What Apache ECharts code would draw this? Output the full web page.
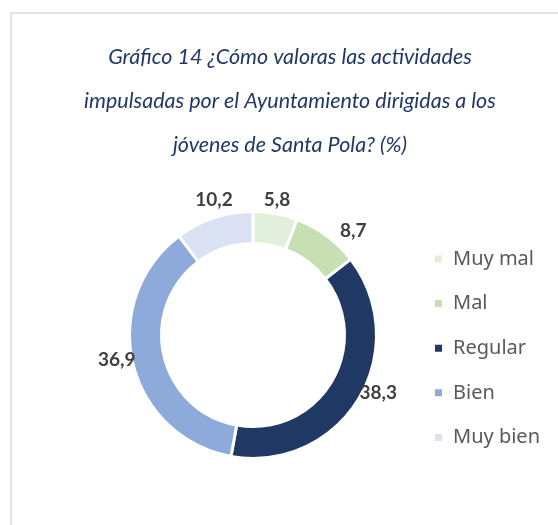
<!DOCTYPE html>
<html>
<head>
<meta charset="utf-8">
<script src="https://cdn.jsdelivr.net/npm/echarts@6/dist/echarts.min.js"></script>
<style>
  html, body { margin: 0; padding: 0; background: #fff; }
  #chart { width: 558px; height: 525px; }
</style>
</head>
<body>
<div id="chart"></div>
<script>
const categories = ['Muy mal', 'Mal', 'Regular', 'Bien', 'Muy bien'];
const values = [5.8, 8.7, 38.3, 36.9, 10.2];
const colors = ['#e2efda', '#c6e0b4', '#203864', '#8eaadb', '#d9e1f2'];
const titleText = 'Gráfico 14 ¿Cómo valoras las actividades\nimpulsadas por el Ayuntamiento dirigidas a los\njóvenes de Santa Pola? (%)';

// nudges so the value labels sit where the original placed them
const labelNudge = {
    'Muy mal': [-2, 6],
    'Mal': [15, 11],
    'Regular': [3, -16],
    'Bien': [3, -8],
    'Muy bien': [6, 1]
};

let pieData = categories.map((name, i) => ({ name: name, value: values[i], itemStyle: { color: colors[i] } }));
// transparent ring used only to hold the value labels just outside the donut
let labelData = categories.map((name, i) => ({ name: name, value: values[i], label: { offset: labelNudge[name] } }));

const chart = echarts.init(document.getElementById('chart'));
chart.setOption({
    animation: false,
    graphic: [{
        type: 'rect',
        shape: { x: 11, y: 13, width: 600, height: 600 },
        style: { fill: 'none', stroke: '#d9d9d9', lineWidth: 1.5 },
        silent: true
    }],
    title: {
        text: titleText,
        left: 290,
        top: 35,
        padding: 0,
        textAlign: 'center',
        textStyle: {
            fontFamily: 'Lato',
            fontStyle: 'italic',
            fontWeight: 'normal',
            fontSize: 21.5,
            lineHeight: 44,
            color: '#203864'
        }
    },
    legend: {
        orient: 'vertical',
        left: 433,
        top: 248,
        padding: 0,
        itemWidth: 9,
        itemHeight: 9,
        itemGap: 22.6,
        icon: 'rect',
        selectedMode: false,
        data: categories,
        textStyle: {
            fontFamily: 'Noto Sans',
            fontSize: 20,
            lineHeight: 22,
            color: '#595959',
            padding: [0, 0, 0, 5]
        }
    },
    series: [{
        type: 'pie',
        center: [253, 335],
        radius: [91.5, 123.5],
        startAngle: 90,
        clockwise: true,
        silent: true,
        label: { show: false },
        labelLine: { show: false },
        itemStyle: { borderColor: '#ffffff', borderWidth: 3 },
        data: pieData
    }, {
        type: 'pie',
        center: [253, 335],
        radius: [130, 150],
        startAngle: 90,
        clockwise: true,
        silent: true,
        itemStyle: { color: 'rgba(0,0,0,0)' },
        label: {
            show: true,
            position: 'inside',
            formatter: p => p.value.toFixed(1).replace('.', ','),
            fontFamily: 'Lato',
            fontWeight: 'bold',
            fontSize: 19,
            color: '#404040'
        },
        labelLine: { show: false },
        data: labelData
    }]
});
</script>
</body>
</html>
